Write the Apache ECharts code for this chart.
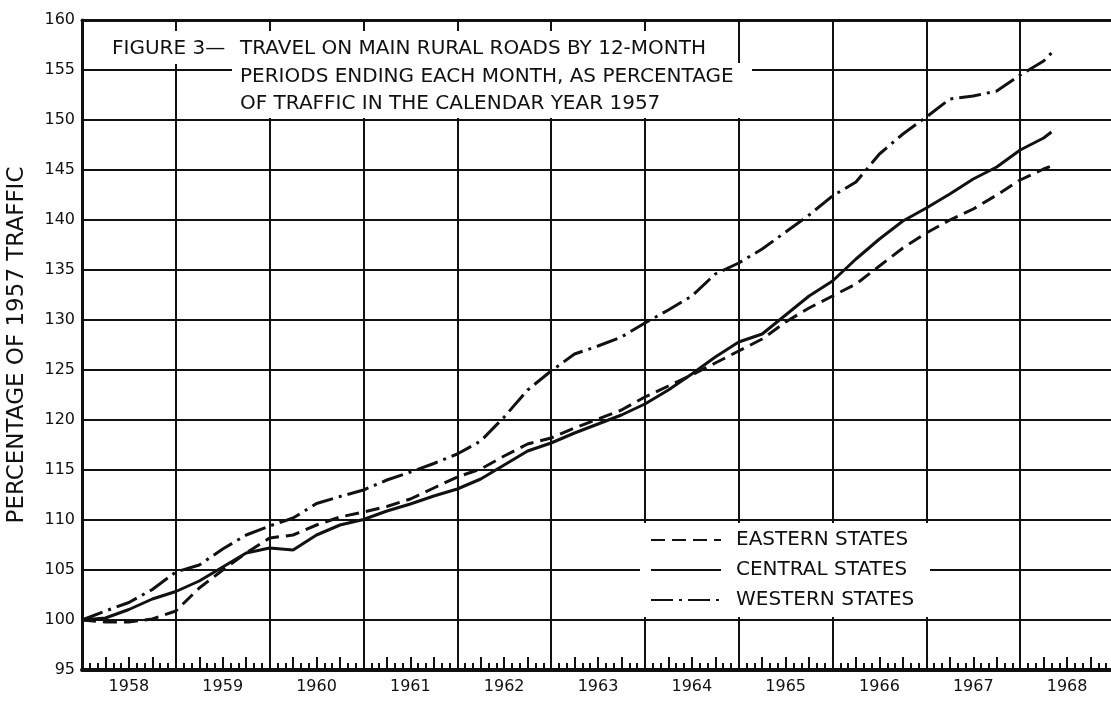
<!DOCTYPE html>
<html>
<head>
<meta charset="utf-8">
<title>Figure 3 - Travel on main rural roads</title>
<script src="https://cdn.jsdelivr.net/npm/echarts@6/dist/echarts.min.js"></script>
<style>
  html, body { margin: 0; padding: 0; background: #fff; }
  #chart { width: 1111px; height: 702px; }
</style>
</head>
<body>
<div id="chart"></div>
<script>
// months counted from December 1957 (0 = Dec 1957, 12 = Dec 1958 ...)
var months = [0, 3, 6, 9, 12, 15, 18, 21, 24, 27, 30, 33, 36, 39, 42, 45, 48, 51, 54, 57, 60,
  63, 66, 69, 72, 75, 78, 81, 84, 87, 90, 93, 96, 99, 102, 105, 108, 111, 114, 117, 120, 123, 124];

var eastern = [100, 99.8, 99.8, 100.1, 100.9, 103.2, 105.0, 106.7, 108.2, 108.5, 109.5, 110.3, 110.8,
  111.35, 112.1, 113.2, 114.3, 115.1, 116.4, 117.6, 118.2, 119.2, 120.1, 121.0, 122.3, 123.4, 124.5,
  125.7, 126.9, 128.1, 129.8, 131.2, 132.4, 133.6, 135.4, 137.2, 138.7, 140.0, 141.1, 142.5, 144.0,
  145.1, 145.4];

var central = [100, 100.2, 101.05, 102.1, 102.85, 103.9, 105.3, 106.7, 107.2, 107.0, 108.5, 109.5, 110.05,
  110.9, 111.6, 112.4, 113.1, 114.1, 115.5, 116.9, 117.7, 118.7, 119.6, 120.5, 121.6, 123.0, 124.6,
  126.3, 127.8, 128.6, 130.5, 132.4, 133.9, 136.1, 138.1, 139.9, 141.2, 142.6, 144.1, 145.3, 147.0,
  148.2, 148.8];

var western = [100, 100.9, 101.75, 103.05, 104.8, 105.5, 107.1, 108.5, 109.4, 110.2, 111.65, 112.35, 113.0,
  114.0, 114.8, 115.65, 116.6, 117.9, 120.3, 123.0, 124.9, 126.6, 127.4, 128.3, 129.7, 131.0, 132.4,
  134.6, 135.7, 137.1, 138.8, 140.5, 142.4, 143.8, 146.6, 148.6, 150.3, 152.1, 152.4, 152.9, 154.5,
  155.9, 156.7];

var yearLabels = ['1958', '1959', '1960', '1961', '1962', '1963', '1964', '1965', '1966', '1967', '1968'];
var seriesNames = ['EASTERN STATES', 'CENTRAL STATES', 'WESTERN STATES'];
var titleLines = ['FIGURE 3\u2014', 'TRAVEL ON MAIN RURAL ROADS BY 12-MONTH',
  'PERIODS ENDING EACH MONTH, AS PERCENTAGE', 'OF TRAFFIC IN THE CALENDAR YEAR 1957'];

var ink = '#111';
var face = 'DejaVu Sans';
var xMax = 132;

function pairs(vals) {
  return months.map(function (m, i) { return [m, vals[i]]; });
}

function lineSeries(name, vals, dash) {
  return {
    name: name,
    type: 'line',
    xAxisIndex: 0,
    data: pairs(vals),
    symbol: 'none',
    showSymbol: false,
    z: 5,
    itemStyle: { color: ink },
    lineStyle: { color: ink, width: 3, type: dash }
  };
}

var chart = echarts.init(document.getElementById('chart'), null, { renderer: 'canvas' });

var option = {
  animation: false,
  backgroundColor: '#fff',
  color: [ink, ink, ink],
  grid: { left: 82, right: -3, top: 20, bottom: 32, containLabel: false, outerBoundsMode: 'none' },
  xAxis: [
    {
      // year grid lines, bottom line and month ticks
      type: 'value', min: 0, max: xMax, interval: 12, position: 'bottom',
      axisLine: { show: true, onZero: false, lineStyle: { color: ink, width: 4 } },
      axisTick: { show: false, inside: true },
      minorTick: { show: true, splitNumber: 12, length: 7, lineStyle: { color: ink, width: 2 } },
      axisLabel: { show: false },
      splitLine: { show: true, showMaxLine: false, lineStyle: { color: ink, width: 2 } }
    },
    {
      // quarter ticks
      type: 'value', min: 0, max: xMax, interval: 3, position: 'bottom',
      axisLine: { show: false, onZero: false },
      axisTick: { show: true, inside: true, length: 13, lineStyle: { color: ink, width: 2 } },
      axisLabel: { show: false },
      splitLine: { show: false }
    },
    {
      // year labels at mid year
      type: 'value', min: 0, max: xMax, interval: 6, position: 'bottom',
      axisLine: { show: false, onZero: false },
      axisTick: { show: false },
      splitLine: { show: false },
      axisLabel: {
        margin: 9, color: ink, fontFamily: face, fontSize: 16,
        formatter: function (v) {
          if ((v - 6) % 12 !== 0) return '';
          return yearLabels[(v - 6) / 12] || '';
        }
      }
    },
    {
      // top border
      type: 'value', min: 0, max: xMax, position: 'top',
      axisLine: { show: true, onZero: false, lineStyle: { color: ink, width: 3 } },
      axisTick: { show: false },
      axisLabel: { show: false },
      splitLine: { show: false }
    }
  ],
  yAxis: {
    type: 'value', min: 95, max: 160, interval: 5,
    name: 'PERCENTAGE OF 1957 TRAFFIC',
    nameLocation: 'middle', nameGap: 53, nameRotate: 90,
    nameTextStyle: { color: ink, fontFamily: face, fontSize: 23 },
    axisLine: { show: true, lineStyle: { color: ink, width: 3 } },
    axisTick: { show: false },
    axisLabel: { color: ink, fontFamily: face, fontSize: 16, margin: 7 },
    splitLine: { show: true, lineStyle: { color: ink, width: 2 } }
  },
  legend: {
    orient: 'vertical',
    left: 650, top: 530,
    padding: 0,
    itemGap: 10,
    itemWidth: 70, itemHeight: 14,
    data: seriesNames,
    itemStyle: { color: 'rgba(0,0,0,0)', borderWidth: 0 },
    textStyle: { color: ink, fontFamily: face, fontSize: 20, padding: [0, 0, 0, 10] },
    z: 6
  },
  graphic: [
    { type: 'rect', z: 4, shape: { x: 640, y: 523, width: 290, height: 94 }, style: { fill: '#fff' } },
    { type: 'rect', z: 4, shape: { x: 100, y: 31, width: 600, height: 33 }, style: { fill: '#fff' } },
    { type: 'rect', z: 4, shape: { x: 232, y: 63, width: 520, height: 55 }, style: { fill: '#fff' } },
    { type: 'text', z: 6, style: { text: titleLines[0], x: 112, y: 49, fill: ink, font: '20px "DejaVu Sans"', verticalAlign: 'middle' } },
    { type: 'text', z: 6, style: { text: titleLines[1], x: 240, y: 49, fill: ink, font: '20px "DejaVu Sans"', verticalAlign: 'middle' } },
    { type: 'text', z: 6, style: { text: titleLines[2], x: 240, y: 77, fill: ink, font: '20px "DejaVu Sans"', verticalAlign: 'middle' } },
    { type: 'text', z: 6, style: { text: titleLines[3], x: 240, y: 104, fill: ink, font: '20px "DejaVu Sans"', verticalAlign: 'middle' } }
  ],
  series: [
    lineSeries(seriesNames[0], eastern, [14, 7]),
    lineSeries(seriesNames[1], central, 'solid'),
    lineSeries(seriesNames[2], western, [22, 6, 3, 6])
  ]
};

chart.setOption(option);
</script>
</body>
</html>
